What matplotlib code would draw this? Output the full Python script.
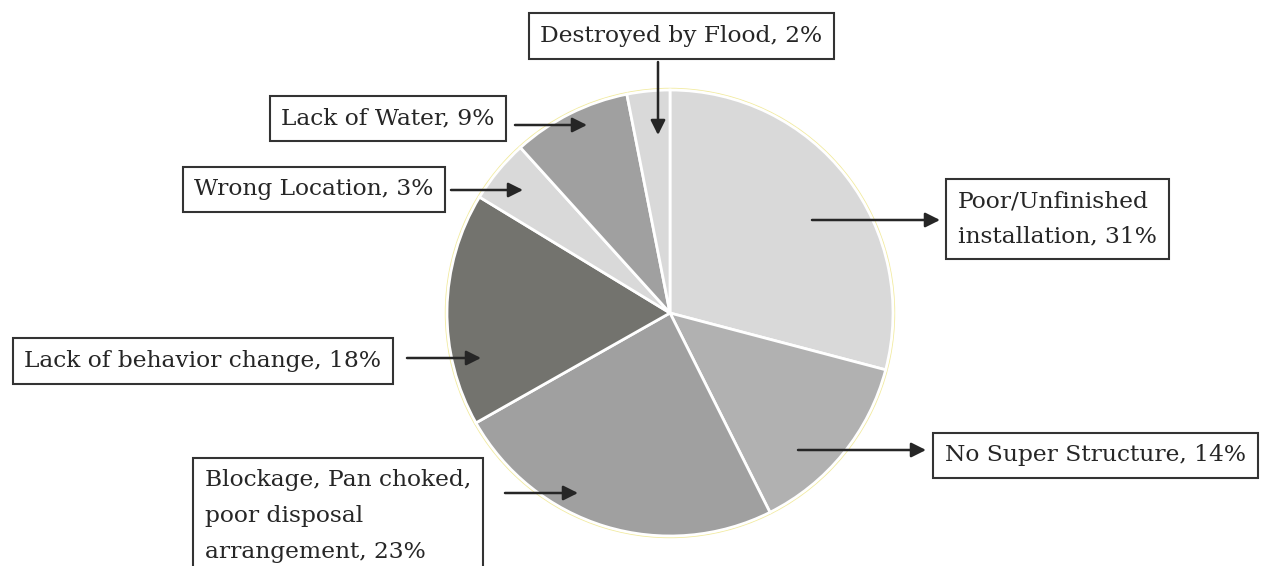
import matplotlib.pyplot as plt
from matplotlib.patches import Circle

# slice sizes (labels carry the published percentages)
causes = ['Poor/Unfinished\ninstallation, 31%',
          'No Super Structure, 14%',
          'Blockage, Pan choked,\npoor disposal\narrangement, 23%',
          'Lack of behavior change, 18%',
          'Wrong Location, 3%',
          'Lack of Water, 9%',
          'Destroyed by Flood, 2%']
shares = [29.1, 13.5, 24.2, 16.9, 4.6, 8.6, 3.1]
colores = ['#d9d9d9', '#b1b1b1', '#a0a0a0', '#73736e', '#d9d9d9', '#a0a0a0', '#d9d9d9']

# label box anchor, arrow tail, arrow head (pixel coords, y down)
cajas = [(958, 219), (945, 455.5), (205, 516), (203, 361), (314, 189.5), (388, 118.5), (681.5, 36)]
alinear = ['left', 'left', 'left', 'center', 'center', 'center', 'center']
flechas = [((812, 220), (940, 220)),
           ((798, 450), (926, 450)),
           ((505, 493), (578, 493)),
           ((407, 358), (481, 358)),
           ((451, 190), (523, 190)),
           ((515, 125), (587, 125)),
           ((658, 62), (658, 135))]

centro = (670, 313)
radio = 223

fig = plt.figure(figsize=(12.61, 5.66), dpi=100)
ax = fig.add_axes([0, 0, 1, 1])

ax.add_patch(Circle(centro, radio + 1.5, facecolor='none', edgecolor='#f2eba0', lw=1.0, zorder=1))
ax.pie(shares, colors=colores, startangle=-90, counterclock=True,
       center=centro, radius=radio, frame=True,
       wedgeprops=dict(edgecolor='white', linewidth=2.0, zorder=2))
ax.set_xlim(0, 1261)
ax.set_ylim(566, 0)
ax.set_aspect('equal')
ax.axis('off')

for texto, (x, y), ha in zip(causes, cajas, alinear):
    ax.text(x, y, texto, ha=ha, va='center', fontsize=16.8, family='DejaVu Serif',
            color='#262626', linespacing=1.8, zorder=5,
            bbox=dict(boxstyle='square,pad=0.5', facecolor='white', edgecolor='#333333', lw=1.5))

for (x0, y0), (x1, y1) in flechas:
    ax.annotate('', xy=(x1, y1), xytext=(x0, y0),
                arrowprops=dict(arrowstyle='-|>', mutation_scale=22, lw=1.8, color='#262626',
                                shrinkA=0, shrinkB=0), zorder=6)

fig.savefig('out.png', dpi=100)
